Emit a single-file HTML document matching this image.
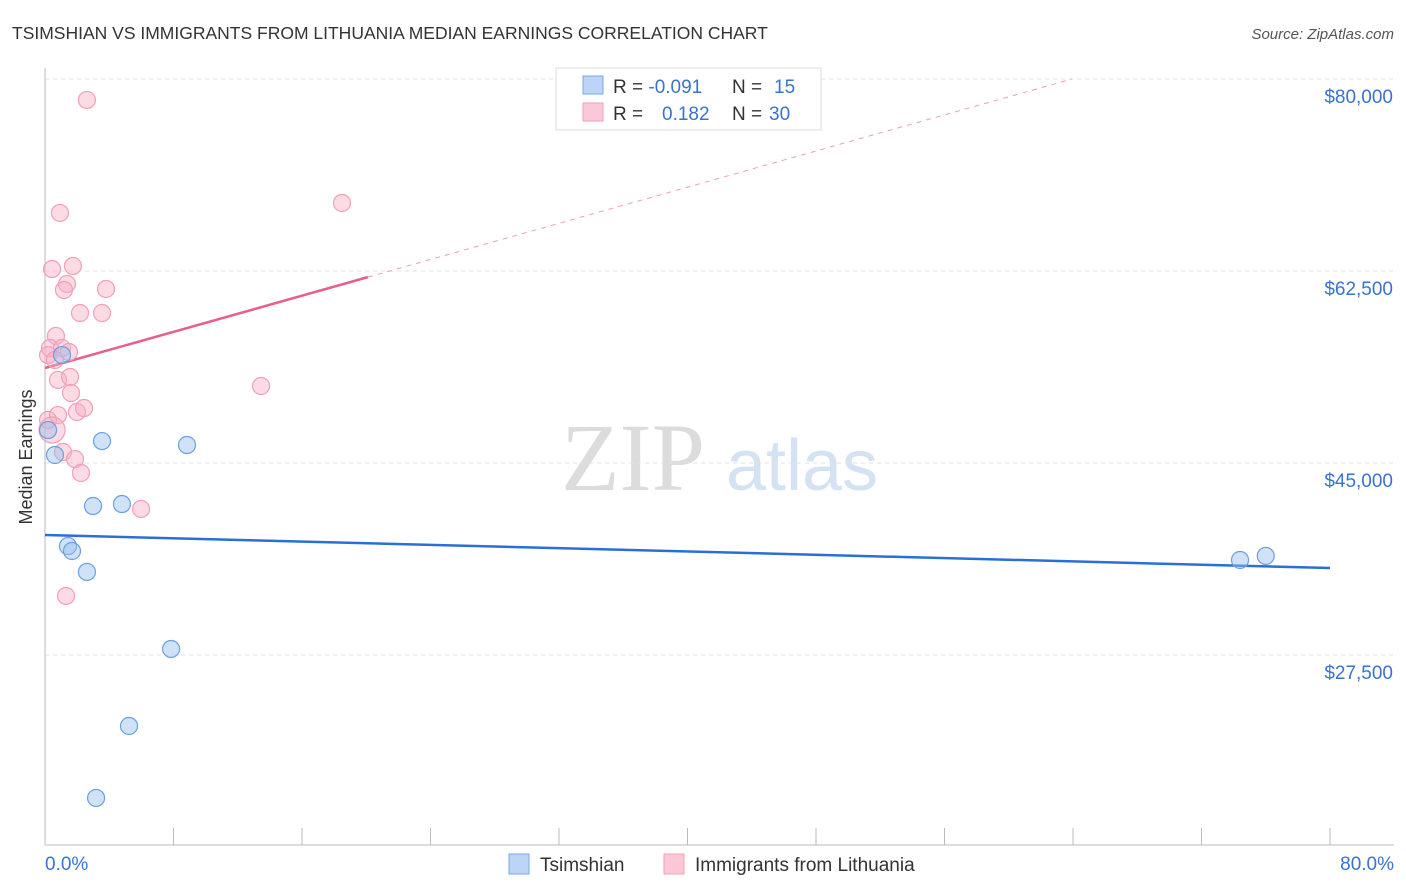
<!DOCTYPE html>
<html><head><meta charset="utf-8"><style>
body{margin:0;background:#fff;font-family:"Liberation Sans",sans-serif;}
svg{display:block}
</style></head><body>
<svg id="c" width="1406" height="892">
<text x="12" y="39" font-size="17.5" fill="#333">TSIMSHIAN VS IMMIGRANTS FROM LITHUANIA MEDIAN EARNINGS CORRELATION CHART</text>
<text x="1394" y="39" font-size="15" fill="#555" font-style="italic" text-anchor="end">Source: ZipAtlas.com</text>
<text x="32" y="457" font-size="18" fill="#333" text-anchor="middle" transform="rotate(-90 32 457)">Median Earnings</text>
<g><text x="633" y="490" font-size="96" fill="#dcdcdc" text-anchor="middle" font-family="Liberation Serif,serif">ZIP</text><text x="802" y="490" font-size="72" fill="#d4e2f4" text-anchor="middle">atlas</text></g>
<g id="grid"></g><g id="axes"></g><g id="trend"></g><g id="pts"></g>
<g>
<rect x="556" y="68" width="265" height="62" fill="#fff" stroke="#ddd"/>
<rect x="583" y="76" width="20" height="18" fill="#bcd4f6" stroke="#7ba7e4"/>
<rect x="583" y="103" width="20" height="18" fill="#fac8d6" stroke="#f0a0b8"/>
<text x="613" y="93" font-size="19" fill="#333">R = <tspan fill="#3a72d0">-0.091</tspan>  <tspan x="732">N = </tspan><tspan fill="#3a72d0" x="774">15</tspan></text>
<text x="613" y="120" font-size="19" fill="#333">R = <tspan fill="#3a72d0" x="662">0.182</tspan><tspan x="732">N = </tspan><tspan fill="#3a72d0" x="769">30</tspan></text>
</g>
<g>
<rect x="509" y="854" width="20" height="20" fill="#bcd4f6" stroke="#7ba7e4"/>
<text x="540" y="871" font-size="19" fill="#333">Tsimshian</text>
<rect x="664" y="854" width="20" height="20" fill="#fac8d6" stroke="#f0a0b8"/>
<text x="695" y="871" font-size="19" fill="#333">Immigrants from Lithuania</text>
</g>
</svg>
<script>
const yTicks=[80000,62500,45000,27500];
const yTickLabels=["$80,000","$62,500","$45,000","$27,500"];
const xTickLabels=["0.0%","80.0%"];
const blueX=[0.19,0.62,1.06,3.55,8.84,2.99,4.79,1.43,1.68,2.61,7.85,5.23,3.18,74.4,76.0];
const blueY=[48000,45730,54840,47000,46640,41080,41260,37430,36980,35070,28050,21030,14470,36160,36530];
const pinkX=[2.61,0.93,18.49,0.44,1.74,1.37,1.18,3.80,2.18,3.55,0.68,0.31,1.06,1.49,0.81,1.56,1.62,0.19,0.81,1.99,2.43,0.44,1.12,1.87,2.24,5.98,1.31,13.45,0.19,0.62];
const pinkY=[78090,67790,68700,62680,62960,61320,60770,60860,58670,58670,56580,55480,55480,55120,52570,52840,51380,48920,49370,49650,50010,48010,46000,45360,44090,40810,32880,52020,54840,54390];
const blueTrend=[38440,35430];
const pinkTrend=[53660,412];
const NS="http://www.w3.org/2000/svg";
const X=v=>45+v/80*1285, Y=v=>79+(80000-v)/17500*192;
function mk(t,a,p){const e=document.createElementNS(NS,t);for(const k in a)e.setAttribute(k,a[k]);document.getElementById(p).appendChild(e);return e;}
yTicks.forEach((v,i)=>{
 const l=mk('line',{x1:45,x2:1394,y1:Y(v),y2:Y(v),stroke:'#e2e2e2','stroke-dasharray':'4,4'},'grid');
 
 
 const t=mk('text',{x:1393,y:Y(v)+24,'font-size':19,fill:'#3a72d0','text-anchor':'end'},'grid');t.textContent=yTickLabels[i];
 
 
});
const ax=mk('line',{x1:45,x2:1394,y1:845,y2:845,stroke:'#bbb'},'axes');


const ay=mk('line',{x1:45,x2:45,y1:68,y2:845,stroke:'#bbb'},'axes');


for(let i=0;i<=10;i++){const t=mk('line',{x1:X(i*8),x2:X(i*8),y1:828,y2:845,stroke:'#bbb'},'axes');
 
 }
[[0,'start',45],[80,'end',1394]].forEach((d,i)=>{const t=mk('text',{x:d[2],y:870,'font-size':19,fill:'#3a72d0','text-anchor':d[1]},'axes');t.textContent=xTickLabels[i];
 
 });
const bl=mk('line',{x1:X(0),y1:Y(blueTrend[0]),x2:X(80),y2:Y(blueTrend[1]),stroke:'#2a6fd6','stroke-width':2.5},'trend');


const pe=20.1, pd=(80000-pinkTrend[0])/pinkTrend[1];
const pl=mk('line',{x1:X(0),y1:Y(pinkTrend[0]),x2:X(pe),y2:Y(pinkTrend[0]+pinkTrend[1]*pe),stroke:'#e8608a','stroke-width':2.5},'trend');


const pdl=mk('line',{x1:X(pe),y1:Y(pinkTrend[0]+pinkTrend[1]*pe),x2:X(pd),y2:Y(80000),stroke:'#eaa0b8','stroke-width':1,'stroke-dasharray':'5,5'},'trend');


pinkX.forEach((x,i)=>{const c=mk('circle',{cx:X(x),cy:Y(pinkY[i]),r:i==21?13:8.5,fill:'rgba(248,175,198,0.45)',stroke:'#f0a0b8','stroke-width':1.2},'pts');
 
 });
blueX.forEach((x,i)=>{const c=mk('circle',{cx:X(x),cy:Y(blueY[i]),r:8.5,fill:'rgba(150,190,240,0.45)',stroke:'#6a9fe0','stroke-width':1.2},'pts');
 
 });
</script>
</body></html>
